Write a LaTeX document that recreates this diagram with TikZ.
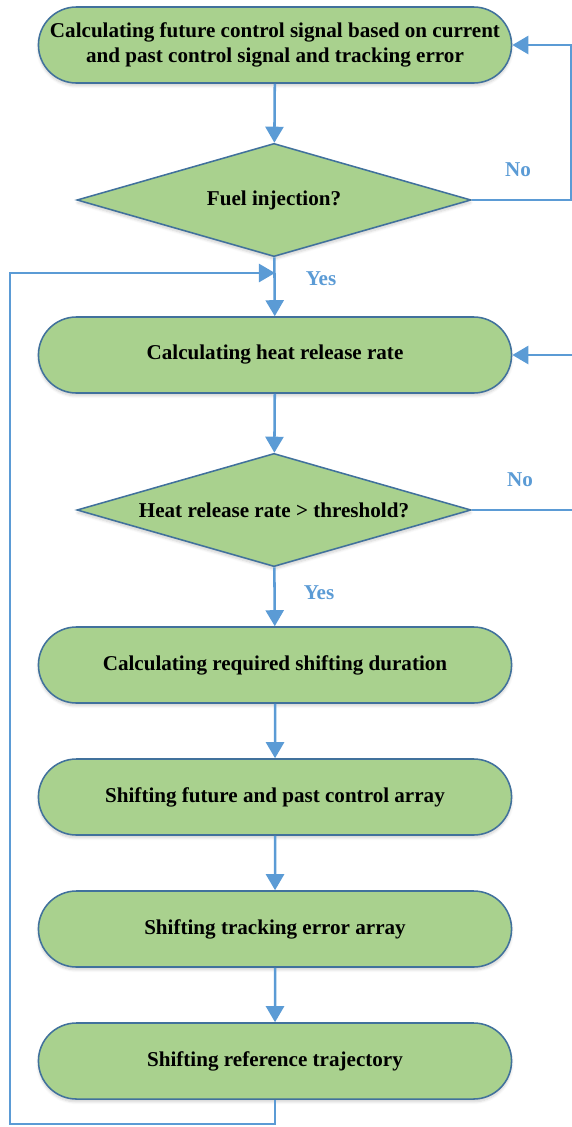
\documentclass[tikz,border=0pt]{standalone}
\usepackage{fontspec}
\setmainfont{Liberation Serif}
\usepackage{xcolor}
\usetikzlibrary{arrows.meta, shapes.geometric, shapes.misc, shadows.blur}

\definecolor{boxgreen}{HTML}{A9D18E}
\definecolor{boxedge}{HTML}{41719C}
\definecolor{flowblue}{HTML}{5B9BD5}

\begin{document}
\begin{tikzpicture}[x=0.025cm, y=-0.025cm,
		font=\fontsize{15}{18}\selectfont\bfseries,
		stepbox/.style = {rounded rectangle, draw = boxedge, line width = 1.1pt, fill = boxgreen,
			minimum width = 11.825cm, minimum height = 1.9cm, align = center, inner sep = 0pt,
			blur shadow = {shadow xshift = 0pt, shadow yshift = -2pt, shadow opacity = 18, shadow blur steps = 6}},
		testbox/.style = {diamond, draw = boxedge, line width = 1.1pt, fill = boxgreen, aspect = 3.5,
			minimum width = 9.85cm, minimum height = 2.83cm, inner sep = 0pt,
			blur shadow = {shadow xshift = 0pt, shadow yshift = -2pt, shadow opacity = 18, shadow blur steps = 6}},
		flow/.style = {draw = flowblue, line width = 1.8pt, -{Triangle[width = 0.45cm, length = 0.4cm]}},
		answer/.style = {text = flowblue}]
	\useasboundingbox (0,0) rectangle (572,1127);

	% boxes and tests
	\node [stepbox] (calcU) at (275,45) {Calculating future control signal based on current\\and past control signal and tracking error};
	\node [testbox] (fuel) at (274,200) {Fuel injection?};
	\node [stepbox] (calcHRR) at (275,355) {Calculating heat release rate};
	\node [testbox] (thresh) at (274,510) {Heat release rate > threshold?};
	\node [stepbox] (calcDur) at (275,665) {Calculating required shifting duration};
	\node [stepbox] (shiftU) at (275,797) {Shifting future and past control array};
	\node [stepbox] (shiftE) at (275,929) {Shifting tracking error array};
	\node [stepbox] (shiftRef) at (275,1061) {Shifting reference trajectory};

	\coordinate (join) at (275,273);
	\coordinate (loopL) at (10,1124);

	% main flow
	\draw [flow] (calcU) -- (fuel);
	\draw [flow] (fuel) -- (calcHRR);
	\draw [flow] (calcHRR) -- (thresh);
	\draw [flow] (thresh) -- (calcDur);
	\draw [flow] (calcDur) -- (shiftU);
	\draw [flow] (shiftU) -- (shiftE);
	\draw [flow] (shiftE) -- (shiftRef);

	% loops back
	\draw [flow] (fuel.east) -- ++(99,0) |- (calcU.east);
	\draw [flow] (thresh.east) -- ++(106,0) |- (calcHRR.east);
	\draw [flow] (shiftRef.south) |- (loopL) |- (join);

	\node [answer] (no1) at (518,170) {No};
	\node [answer] (yes1) at (321,279) {Yes};
	\node [answer] (no2) at (520,480) {No};
	\node [answer] (yes2) at (319,593) {Yes};
\end{tikzpicture}
\end{document}
